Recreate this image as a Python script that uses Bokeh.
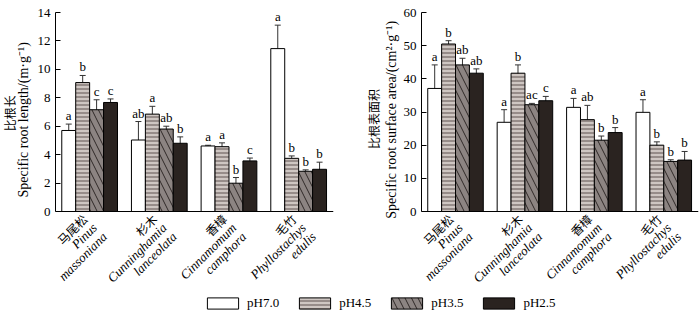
import math
from bokeh.plotting import figure
from bokeh.models import (ColumnDataSource, Whisker, TeeHead, Legend, LegendItem,
                          FixedTicker, Range1d, Span)
from bokeh.layouts import column, row
from bokeh.embed import file_html
from bokeh.resources import INLINE
from bokeh.core.properties import value

# ---------------- data ----------------
groups_cn = ["马尾松", "杉木", "香樟", "毛竹"]
groups_genus = ["Pinus", "Cunninghamia", "Cinnamomum", "Phyllostachys"]
groups_species = ["massoniana", "lanceolata", "camphora", "edulis"]
treatments = ["pH7.0", "pH4.5", "pH3.5", "pH2.5"]

# specific root length (m/g)
srl_ph70 = [5.70, 5.03, 4.61, 11.46]
srl_ph45 = [9.07, 6.85, 4.56, 3.74]
srl_ph35 = [7.16, 5.80, 1.99, 2.83]
srl_ph25 = [7.67, 4.80, 3.56, 2.97]
srl_err_ph70 = [0.45, 1.30, 0.05, 1.65]
srl_err_ph45 = [0.50, 0.55, 0.27, 0.17]
srl_err_ph35 = [0.70, 0.20, 0.40, 0.10]
srl_err_ph25 = [0.25, 0.45, 0.20, 0.50]
srl_let_ph70 = ["a", "ab", "a", "a"]
srl_let_ph45 = ["b", "a", "a", "b"]
srl_let_ph35 = ["c", "ab", "b", "b"]
srl_let_ph25 = ["c", "b", "c", "b"]
srl_ticks = [0, 2, 4, 6, 8, 10, 12, 14]
srl_title_cn = "比根长"
srl_title_en = "Specific root length/(m\u00b7g\u207b\u00b9)"

# specific root surface area (cm2/g)
sra_ph70 = [37.1, 26.9, 31.4, 29.9]
sra_ph45 = [50.5, 41.7, 27.7, 20.0]
sra_ph35 = [44.2, 32.2, 21.5, 15.1]
sra_ph25 = [41.7, 33.4, 23.8, 15.5]
sra_err_ph70 = [7.1, 3.8, 2.7, 3.8]
sra_err_ph45 = [1.0, 2.5, 4.3, 1.0]
sra_err_ph35 = [2.0, 0.4, 1.25, 0.5]
sra_err_ph25 = [1.3, 1.3, 1.5, 2.6]
sra_let_ph70 = ["a", "a", "a", "a"]
sra_let_ph45 = ["b", "b", "ab", "b"]
sra_let_ph35 = ["ab", "ac", "b", "b"]
sra_let_ph25 = ["ab", "c", "b", "b"]
sra_ticks = [0, 10, 20, 30, 40, 50, 60]
sra_title_cn = "比根表面积"
sra_title_en = "Specific root surface area/(cm\u00b2\u00b7g\u207b\u00b9)"

# ---------------- styles ----------------
SERIF = "Liberation Serif"
CJK = "Noto Sans CJK SC"
bar_offsets = [-0.3, -0.1, 0.1, 0.3]
bar_width = 0.2
styles = [
    dict(fill_color="white"),
    dict(fill_color="#968c89", hatch_pattern="horizontal_line", hatch_color="#dcd5d1",
         hatch_scale=4, hatch_weight=1.6),
    dict(fill_color="#8c8482", hatch_pattern="left_diagonal_line", hatch_color="#2e2826",
         hatch_scale=13, hatch_weight=1.0),
    dict(fill_color="#2a2320"),
]

FIG_H = 290
TOP = 12
AXIS_Y = 211  # pixel row of the value 0 inside the figure


def make_title_strip(width, cn, en, x_cn, x_en, y_cn, y_en):
    """Narrow strip left of a panel holding the two-line rotated axis title."""
    t = figure(width=width, height=FIG_H, x_range=Range1d(0, width), y_range=Range1d(FIG_H, 0),
               x_axis_type=None, y_axis_type=None, output_backend="svg",
               toolbar_location=None, min_border=0)
    t.grid.visible = False
    t.outline_line_color = None
    t.text(x=[x_cn], y=[y_cn], text=[cn], angle=math.pi / 2, text_align="center",
           text_baseline="middle", text_font=value(CJK), text_font_size="12px",
           text_color="black")
    t.text(x=[x_en], y=[y_en], text=[en], angle=math.pi / 2, text_align="center",
           text_baseline="middle", text_font=value(SERIF), text_font_size="14px",
           text_color="black")
    return t


def make_panel(width, means, errs, lets, ticks, left_border, right_border):
    ymax = ticks[-1]
    ppu = (AXIS_Y - TOP) / ymax           # pixels per unit
    ymin = -(FIG_H - AXIS_Y) / ppu         # room below zero for the category labels
    p = figure(width=width, height=FIG_H, x_range=Range1d(-0.49, 3.5), y_range=Range1d(ymin, ymax),
               x_axis_type=None, output_backend="svg", toolbar_location=None,
               min_border_left=left_border, min_border_right=right_border,
               min_border_top=TOP, min_border_bottom=0)
    p.grid.visible = False
    p.outline_line_color = None
    p.add_layout(Span(location=0, dimension="width", line_color="black", line_width=1))
    for k in range(4):
        xs = [i + bar_offsets[k] for i in range(4)]
        src = ColumnDataSource(dict(x=xs, top=means[k], upper=[m + e for m, e in zip(means[k], errs[k])],
                                    lower=[m - e for m, e in zip(means[k], errs[k])], let=lets[k]))
        p.vbar(x="x", top="top", bottom=0, width=bar_width, source=src, line_color="black",
               line_width=1, **styles[k])
        w = Whisker(base="x", upper="upper", lower="lower", source=src, dimension="height",
                    line_color="#333333", line_width=1,
                    upper_head=TeeHead(size=6, line_color="#333333", line_width=1),
                    lower_head=TeeHead(size=6, line_color="#333333", line_width=1))
        p.add_layout(w)
        p.text(x="x", y="upper", text="let", source=src, text_align="center",
               text_baseline="bottom", y_offset=-1, text_font=value(SERIF),
               text_font_size="13px", text_color="black")
    # value axis
    ax = p.yaxis[0]
    ax.ticker = FixedTicker(ticks=ticks)
    ax.bounds = (0, ymax)
    ax.minor_tick_line_color = None
    ax.major_tick_in = 5
    ax.major_tick_out = 0
    ax.major_label_standoff = 5
    ax.major_label_text_font = SERIF
    ax.major_label_text_font_size = "13px"
    ax.major_label_text_color = "black"
    ax.axis_line_color = "black"
    ax.major_tick_line_color = "black"

    # category labels, rotated 45 degrees, hung below the zero line
    line_sets = [(groups_cn, CJK, "normal", "12px"),
                 (groups_genus, SERIF, "italic", "13px"),
                 (groups_species, SERIF, "italic", "13px")]
    for j, (names, fnt, sty, sz) in enumerate(line_sets):
        src = ColumnDataSource(dict(x=list(range(len(names))), y=[0] * len(names), t=names))
        p.text(x="x", y="y", text="t", source=src, x_offset=-5 + 10 * j, y_offset=5 + 9 * j,
               angle=math.pi / 4, text_align="right", text_baseline="middle",
               text_font=value(fnt), text_font_style=sty, text_font_size=sz,
               text_color="black")
    return p


t1 = make_title_strip(33, srl_title_cn, srl_title_en, 8.5, 23, 105, 112)
p1 = make_panel(317, [srl_ph70, srl_ph45, srl_ph35, srl_ph25],
                [srl_err_ph70, srl_err_ph45, srl_err_ph35, srl_err_ph25],
                [srl_let_ph70, srl_let_ph45, srl_let_ph35, srl_let_ph25],
                srl_ticks, 22, 17)
t2 = make_title_strip(50, sra_title_cn, sra_title_en, 22.5, 41, 111, 112)
p2 = make_panel(300, [sra_ph70, sra_ph45, sra_ph35, sra_ph25],
                [sra_err_ph70, sra_err_ph45, sra_err_ph35, sra_err_ph25],
                [sra_let_ph70, sra_let_ph45, sra_let_ph35, sra_let_ph25],
                sra_ticks, 20, 2)

# legend strip
p3 = figure(width=700, height=24, x_range=(0, 1), y_range=(0, 1), output_backend="svg",
            toolbar_location=None, min_border=0, x_axis_type=None, y_axis_type=None)
p3.grid.visible = False
p3.outline_line_color = None
items = []
for k in range(4):
    # proxy glyphs placed outside the visible range: they only feed the legend
    r = p3.vbar(x=[-5], top=[0], width=0.1, line_color="black", line_width=1, **styles[k])
    items.append(LegendItem(label=treatments[k], renderers=[r]))
leg = Legend(items=items, orientation="horizontal", location=(203, 3), padding=0, margin=0,
             spacing=16, glyph_width=39, glyph_height=14, label_height=14, label_standoff=5,
             label_text_font=SERIF, label_text_font_size="13px", label_text_color="black",
             border_line_color=None, background_fill_alpha=0)
p3.add_layout(leg)

layout = column(row(t1, p1, t2, p2), p3)
open("out.html", "w").write(file_html(layout, INLINE))
